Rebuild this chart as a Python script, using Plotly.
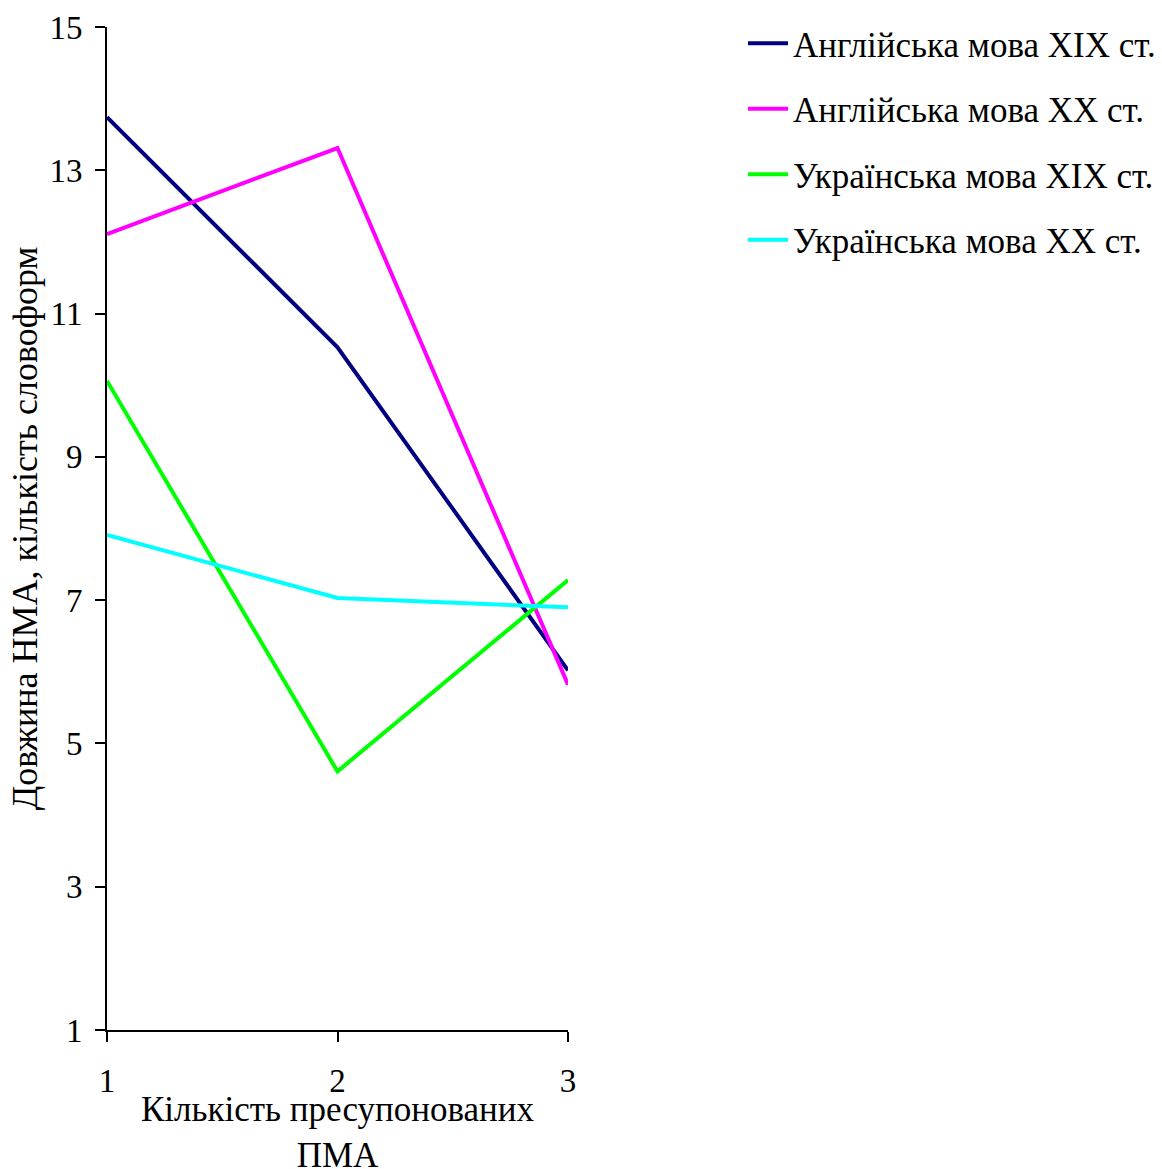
import plotly.graph_objects as go

x_vals = [1, 2, 3]
eng_19 = [13.74, 10.53, 6.02]
eng_20 = [12.11, 13.31, 5.82]
ukr_19 = [10.06, 4.61, 7.28]
ukr_20 = [7.91, 7.03, 6.90]

series_names = ["Англійська мова XIX ст.", "Англійська мова XX ст.",
                "Українська мова XIX ст.", "Українська мова XX ст."]
series_vals = [eng_19, eng_20, ukr_19, ukr_20]
colors = ["#000080", "#FF00FF", "#00FF00", "#00FFFF"]
x_title = "Кількість пресупонованих<br>ПМА"
y_title = "Довжина НМА, кількість словоформ"

FONT = "Liberation Serif, Times New Roman, serif"

fig = go.Figure()
for i, (name, vals, c) in enumerate(zip(series_names, series_vals, colors)):
    fig.add_trace(go.Scatter(x=x_vals, y=vals, mode="lines", name=name,
                             line=dict(color=c, width=4), legendgroup=str(i)))

fig.add_annotation(text=x_title, xref="paper", yref="paper", x=0.5, y=-0.1022,
                   xanchor="center", yanchor="middle", showarrow=False,
                   font=dict(family=FONT, size=35, color="black"))

fig.update_layout(
    width=1162, height=1169,
    margin=dict(l=107, r=594, t=27, b=139, autoexpand=False),
    paper_bgcolor="white", plot_bgcolor="white",
    font=dict(family=FONT, size=35, color="black"),
    showlegend=True,
    legend=dict(x=743 / 1162, xref="container", xanchor="left",
                y=1 - 14 / 1169, yref="container", yanchor="top",
                font=dict(family=FONT, size=35, color="black"),
                tracegroupgap=17, itemwidth=40),
    xaxis=dict(range=[1, 3], tickvals=x_vals, ticktext=["1", "2", "3"],
               showgrid=False, zeroline=False, showline=True, linecolor="black",
               linewidth=2, ticks="outside", ticklen=10, tickwidth=2, tickcolor="black",
               tickfont=dict(family=FONT, size=33), ticklabelstandoff=10,
               automargin=False),
    yaxis=dict(range=[1, 15], tickvals=[1, 3, 5, 7, 9, 11, 13, 15],
               showgrid=False, zeroline=False, showline=True, linecolor="black",
               linewidth=2, ticks="outside", ticklen=10, tickwidth=2, tickcolor="black",
               tickfont=dict(family=FONT, size=33), ticklabelstandoff=6,
               automargin=False,
               title=dict(text=y_title,
                          font=dict(family=FONT, size=36), standoff=1)),
)

fig.write_html("out.html")
